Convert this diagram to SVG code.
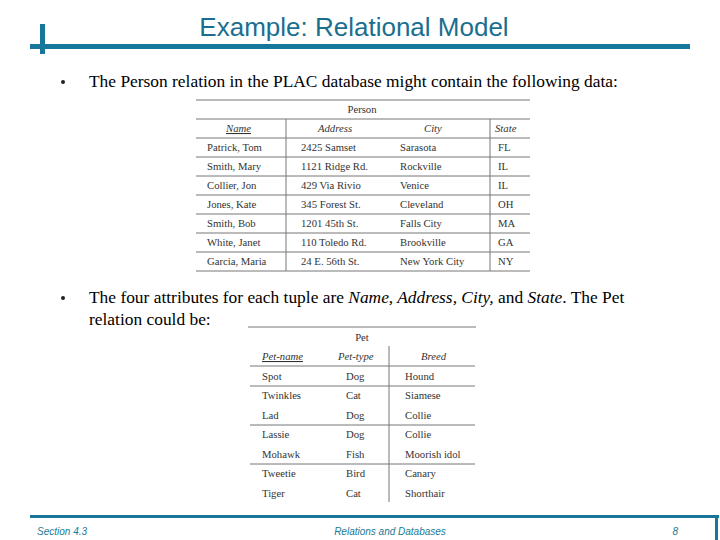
<svg xmlns="http://www.w3.org/2000/svg" width="720" height="540" viewBox="0 0 720 540">
<style>
.t{font-family:"Liberation Serif",serif;font-size:10.7px;fill:#333}
.i{font-style:italic}
.l{stroke:#777;stroke-width:1}
.b{font-family:"Liberation Serif",serif;font-size:17.4px;fill:#000}
.f{font-family:"Liberation Sans",sans-serif;font-size:10px;font-style:italic;fill:#1a7a98}
</style>
<rect width="720" height="540" fill="#fff"/>
<g id="header">
<rect x="30" y="44" width="660" height="5" fill="#17779a"/>
<rect x="40" y="24" width="5" height="30" fill="#17779a"/>
<text x="354" y="36" text-anchor="middle" font-family="Liberation Sans,sans-serif" font-size="26" fill="#1a6f8f">Example: Relational Model</text>
</g>
<g id="bullets">
<circle cx="63" cy="82" r="2" fill="#222"/>
<text class="b" x="89" y="87">The Person relation in the PLAC database might contain the following data:</text>
<circle cx="63" cy="298" r="2" fill="#222"/>
<text class="b" x="89" y="303">The four attributes for each tuple are <tspan font-style="italic">Name, Address, City,</tspan> and <tspan font-style="italic">State</tspan>. The Pet</text>
<text class="b" x="89" y="325">relation could be:</text>
</g>
<g id="person">
<g class="l">
<line x1="196" y1="100" x2="530" y2="100"/>
<line x1="196" y1="119" x2="530" y2="119"/>
<line x1="196" y1="138" x2="530" y2="138"/>
<line x1="196" y1="157" x2="530" y2="157"/>
<line x1="196" y1="176" x2="530" y2="176"/>
<line x1="196" y1="195" x2="530" y2="195"/>
<line x1="196" y1="214" x2="530" y2="214"/>
<line x1="196" y1="233" x2="530" y2="233"/>
<line x1="196" y1="252" x2="530" y2="252"/>
<line x1="196" y1="271" x2="530" y2="271"/>
<line x1="286" y1="119" x2="286" y2="271"/>
<line x1="490" y1="119" x2="490" y2="271"/>
</g>
<text class="t" x="362" y="113" text-anchor="middle">Person</text>
<text class="t i" x="226" y="132" text-decoration="underline">Name</text>
<text class="t i" x="318" y="132">Address</text>
<text class="t i" x="424" y="132">City</text>
<text class="t i" x="495" y="132">State</text>
<g class="t">
<text x="207" y="151">Patrick, Tom</text><text x="301" y="151">2425 Samset</text><text x="400" y="151">Sarasota</text><text x="498" y="151">FL</text>
<text x="207" y="170">Smith, Mary</text><text x="301" y="170">1121 Ridge Rd.</text><text x="400" y="170">Rockville</text><text x="498" y="170">IL</text>
<text x="207" y="189">Collier, Jon</text><text x="301" y="189">429 Via Rivio</text><text x="400" y="189">Venice</text><text x="498" y="189">IL</text>
<text x="207" y="208">Jones, Kate</text><text x="301" y="208">345 Forest St.</text><text x="400" y="208">Cleveland</text><text x="498" y="208">OH</text>
<text x="207" y="227">Smith, Bob</text><text x="301" y="227">1201 45th St.</text><text x="400" y="227">Falls City</text><text x="498" y="227">MA</text>
<text x="207" y="246">White, Janet</text><text x="301" y="246">110 Toledo Rd.</text><text x="400" y="246">Brookville</text><text x="498" y="246">GA</text>
<text x="207" y="265">Garcia, Maria</text><text x="301" y="265">24 E. 56th St.</text><text x="400" y="265">New York City</text><text x="498" y="265">NY</text>
</g>
</g>
<g id="pet">
<g class="l">
<line x1="248" y1="327" x2="476" y2="327"/>
<line x1="250" y1="366" x2="475" y2="366"/>
<line x1="250" y1="386" x2="475" y2="386"/>
<line x1="250" y1="425" x2="475" y2="425"/>
<line x1="250" y1="464" x2="475" y2="464"/>
<line x1="389" y1="346" x2="389" y2="502"/>
</g>
<text class="t" x="362" y="341" text-anchor="middle">Pet</text>
<text class="t i" x="262" y="360" text-decoration="underline">Pet-name</text>
<text class="t i" x="338" y="360">Pet-type</text>
<text class="t i" x="421" y="360">Breed</text>
<g class="t">
<text x="262" y="380">Spot</text><text x="346" y="380">Dog</text><text x="405" y="380">Hound</text>
<text x="262" y="399">Twinkles</text><text x="346" y="399">Cat</text><text x="405" y="399">Siamese</text>
<text x="262" y="419">Lad</text><text x="346" y="419">Dog</text><text x="405" y="419">Collie</text>
<text x="262" y="438">Lassie</text><text x="346" y="438">Dog</text><text x="405" y="438">Collie</text>
<text x="262" y="458">Mohawk</text><text x="346" y="458">Fish</text><text x="405" y="458">Moorish idol</text>
<text x="262" y="477">Tweetie</text><text x="346" y="477">Bird</text><text x="405" y="477">Canary</text>
<text x="262" y="497">Tiger</text><text x="346" y="497">Cat</text><text x="405" y="497">Shorthair</text>
</g>
</g>
<g id="footer">
<rect x="30" y="515" width="689" height="3" fill="#17779a"/>
<rect x="715" y="515" width="3" height="25" fill="#17779a"/>
<text class="f" x="37" y="535">Section 4.3</text>
<text class="f" x="390" y="535" text-anchor="middle">Relations and Databases</text>
<text class="f" x="678" y="535" text-anchor="end" font-style="normal">8</text>
</g>
</svg>
